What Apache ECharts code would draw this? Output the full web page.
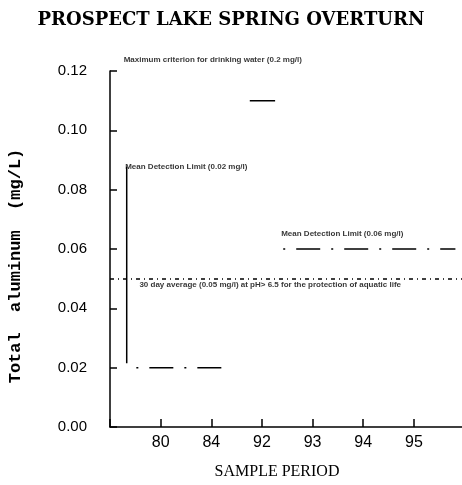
<!DOCTYPE html>
<html><head><meta charset="utf-8">
<script src="https://cdn.jsdelivr.net/npm/echarts@6/dist/echarts.min.js"></script>
<style>html,body{margin:0;padding:0;background:#fff}#c{width:462px;height:485px}</style>
</head><body><div id="c"></div>
<script>
// ---- data ----
const periods = ['80', '84', '92', '93', '94', '95'];           // x tick labels at positions 1..6
const yTicks = [0, 0.02, 0.04, 0.06, 0.08, 0.10, 0.12];
// measured aluminum segments: [x, value] in period-index units
const lowDetect = [[0.52, 0.02], [2.33, 0.02]];                 // 80-84 at detection limit
const peak92 = [[2.76, 0.11], [3.26, 0.11]];                    // 92 sample
const highDetect = [[3.42, 0.06], [6.82, 0.06]];                // 93-95 at detection limit
const detectRange = [[0.33, 0.0215], [0.33, 0.0877]];           // vertical bracket
const aquaticGuideline = 0.05;
// annotation anchors [x, y, text]
const notes = [
  [0.27, 0.1238, 'Maximum criterion for drinking water (0.2 mg/l)'],
  [0.30, 0.0877, 'Mean Detection Limit (0.02 mg/l)'],
  [3.38, 0.0651, 'Mean Detection Limit (0.06 mg/l)'],
  [0.58, 0.0478, '30 day average (0.05 mg/l) at pH> 6.5 for the protection of aquatic life']
];

const chart = echarts.init(document.getElementById('c'), null, {renderer: 'canvas'});
const dashDot = [2, 11, 24, 11];
chart.setOption({
  animation: false,
  backgroundColor: '#fff',
  title: {
    text: 'PROSPECT LAKE SPRING OVERTURN', left: 'center', top: 6,
    textStyle: {fontFamily: 'DejaVu Serif', fontWeight: 'bold', fontSize: 18, color: '#000'}
  },
  grid: {left: 110, right: 0, top: 71, bottom: 58},
  xAxis: {
    type: 'value', min: 0, max: 6.95, interval: 1,
    splitLine: {show: false},
    axisLine: {lineStyle: {color: '#000', width: 1.5}},
    axisTick: {inside: true, length: 8, lineStyle: {color: '#000', width: 1.5}},
    axisLabel: {
      margin: 8, color: '#000', fontFamily: 'Liberation Sans', fontSize: 16,
      showMinLabel: true, showMaxLabel: false,
      formatter: v => (v >= 1 && v <= periods.length) ? periods[v - 1] : ''
    }
  },
  yAxis: {
    type: 'value', min: 0, max: 0.12, interval: 0.02,
    splitLine: {show: false},
    axisLine: {show: true, lineStyle: {color: '#000', width: 1.5}},
    axisTick: {inside: true, length: 7, lineStyle: {color: '#000', width: 1.5}},
    axisLabel: {margin: 23, color: '#000', fontFamily: 'Liberation Sans', fontSize: 15,
      formatter: v => v.toFixed(2)}
  },
  graphic: [
    {type: 'text', x: 277, y: 472, style: {text: 'SAMPLE PERIOD', fill: '#000',
      font: '16px "Liberation Serif"', align: 'center', verticalAlign: 'middle'}},
    {type: 'text', x: 16, y: 266, rotation: Math.PI / 2, style: {text: 'Total  aluminum  (mg/L)', fill: '#000',
      font: 'bold 17px "Liberation Mono"', align: 'center', verticalAlign: 'middle'}}
  ],
  series: [
    {type: 'line', data: lowDetect, symbol: 'none', lineStyle: {color: '#000', width: 1.5, type: dashDot}},
    {type: 'line', data: peak92, symbol: 'none', lineStyle: {color: '#000', width: 1.5}},
    {type: 'line', data: highDetect, symbol: 'none', lineStyle: {color: '#000', width: 1.5, type: dashDot}},
    {type: 'line', data: detectRange, symbol: 'none', lineStyle: {color: '#000', width: 1.5}},
    {type: 'line', data: [], symbol: 'none',
      markLine: {silent: true, symbol: 'none', label: {show: false},
        lineStyle: {color: '#000', width: 1.5, type: [4, 4, 1, 4]},
        data: [{yAxis: aquaticGuideline}]}},
    {type: 'scatter', clip: false, symbolSize: 0, data: notes,
      label: {show: true, position: 'right', distance: 0, color: '#000',
        fontFamily: 'Liberation Sans', fontWeight: 'bold', fontSize: 8,
        formatter: p => p.data[2]}}
  ]
});
</script></body></html>
